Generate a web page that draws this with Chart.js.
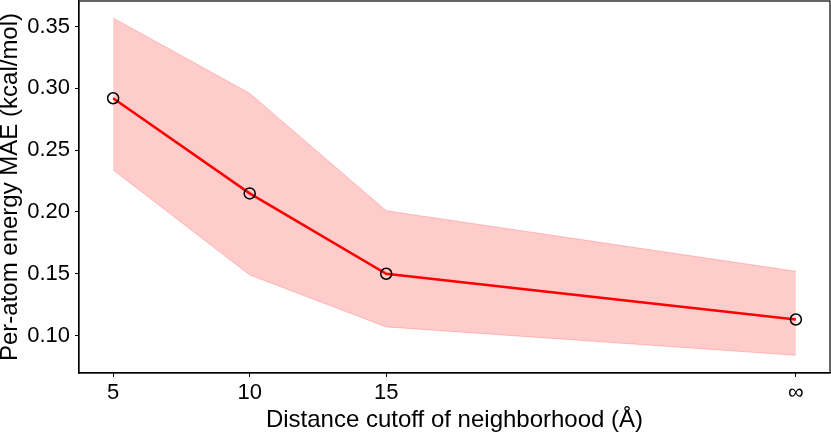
<!DOCTYPE html>
<html>
<head>
<meta charset="utf-8">
<script src="https://cdn.jsdelivr.net/npm/chart.js"></script>
<style>
  html, body { margin: 0; padding: 0; background: #fff; }
  #wrap { width: 831px; height: 436px; }
</style>
</head>
<body>
<div id="wrap"><canvas id="my-chart"></canvas></div>
<script>
// cutoff in Å; the "∞" cutoff sits at 30 on the axis
const cutoffs = [5, 10, 15, 30];
const cutoffLabels = ['5', '10', '15', '∞'];
const maeMean = [0.292, 0.215, 0.150, 0.113];
const maeUpper = [0.357, 0.296, 0.201, 0.152];
const maeLower = [0.234, 0.149, 0.107, 0.084];
const yTicks = [0.10, 0.15, 0.20, 0.25, 0.30, 0.35];

const FONT = "'Liberation Sans', Arial, Helvetica, sans-serif";

const toPoints = (vals) => cutoffs.map((x, i) => ({ x: x, y: vals[i] }));

// box around the plot area (matplotlib style spines)
const frame = {
    id: 'frame',
    afterDraw(chart) {
        const a = chart.chartArea;
        const c = chart.ctx;
        c.save();
        c.strokeStyle = '#000';
        c.lineWidth = 1.2;
        c.strokeRect(a.left, a.top, a.right - a.left, a.bottom - a.top);
        c.restore();
    }
};

const ctx = document.getElementById('my-chart').getContext('2d');
new Chart(ctx, {
    type: 'line',
    data: {
        datasets: [{
            label: 'mean',
            data: toPoints(maeMean),
            borderColor: '#ff0000',
            borderWidth: 2.6,
            pointRadius: 5.5,
            pointBorderColor: '#000',
            pointBackgroundColor: 'rgba(0,0,0,0)',
            pointBorderWidth: 1.5,
            fill: false
        }, {
            label: 'upper',
            data: toPoints(maeUpper),
            borderColor: 'rgba(255,0,0,0.2)',
            borderWidth: 1,
            pointRadius: 0,
            backgroundColor: 'rgba(255,0,0,0.2)',
            fill: 2
        }, {
            label: 'lower',
            data: toPoints(maeLower),
            borderColor: 'rgba(255,0,0,0.2)',
            borderWidth: 1,
            pointRadius: 0,
            fill: false
        }]
    },
    options: {
        responsive: true,
        maintainAspectRatio: false,
        devicePixelRatio: 1,
        animation: false,
        layout: { autoPadding: false, padding: { top: 1, right: 1, left: 0, bottom: 0 } },
        plugins: { legend: { display: false }, tooltip: { enabled: false } },
        scales: {
            x: {
                type: 'linear',
                min: 3.75,
                max: 31.25,
                afterBuildTicks: (scale) => { scale.ticks = cutoffs.map(v => ({ value: v })); },
                afterFit: (scale) => {
                    scale.height = 63;
                    scale.paddingLeft = 0;
                    scale.paddingRight = 0;
                },
                ticks: {
                    color: '#000',
                    font: { family: FONT, size: 22 },
                    padding: 3,
                    maxRotation: 0,
                    autoSkip: false,
                    callback: (v) => cutoffLabels[cutoffs.indexOf(v)]
                },
                grid: { drawOnChartArea: false, drawTicks: true, tickLength: 4, color: '#000', lineWidth: 1 },
                border: { display: true, color: '#000', width: 1.2 },
                title: {
                    display: true,
                    text: 'Distance cutoff of neighborhood (Å)',
                    color: '#000',
                    font: { family: FONT, size: 24, lineHeight: 1 },
                    padding: { top: 0, bottom: 4 }
                }
            },
            y: {
                type: 'linear',
                min: 0.0697,
                max: 0.3707,
                afterBuildTicks: (scale) => { scale.ticks = yTicks.map(v => ({ value: v })); },
                afterFit: (scale) => {
                    scale.width = 79;
                    scale.paddingTop = 0;
                    scale.paddingBottom = 0;
                },
                ticks: {
                    color: '#000',
                    font: { family: FONT, size: 22 },
                    padding: 5,
                    callback: (v) => v.toFixed(2)
                },
                grid: { drawOnChartArea: false, drawTicks: true, tickLength: 4, color: '#000', lineWidth: 1 },
                border: { display: true, color: '#000', width: 1.2 },
                title: {
                    display: true,
                    text: 'Per-atom energy MAE (kcal/mol)',
                    color: '#000',
                    font: { family: FONT, size: 24, lineHeight: 1 },
                    padding: { top: -1.5, bottom: 0 }
                }
            }
        }
    },
    plugins: [frame]
});
</script>
</body>
</html>
